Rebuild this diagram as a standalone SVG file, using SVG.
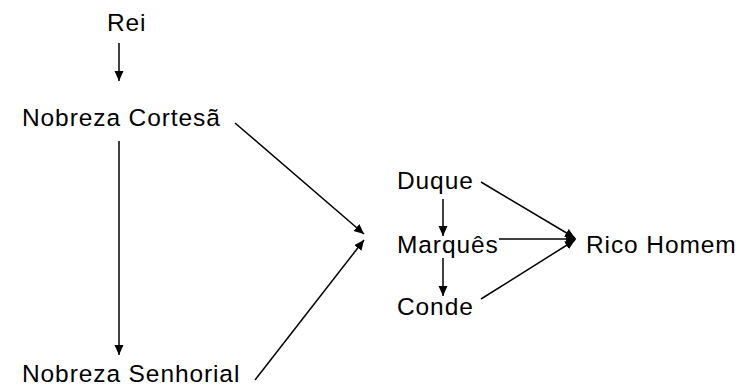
<svg xmlns="http://www.w3.org/2000/svg" width="756" height="392" viewBox="0 0 756 392">
<style>
text{font-family:"Liberation Sans",Arial,sans-serif;font-size:24.5px;letter-spacing:0.9px;fill:#000}
.c line{stroke:#000;stroke-width:1.5;fill:none;marker-end:url(#ah)}
</style>
<defs>
<marker id="ah" markerUnits="userSpaceOnUse" markerWidth="11" markerHeight="10" refX="10" refY="4.5" orient="auto">
<path d="M0,0 L10,4.5 L0,9 Z" fill="#000"/>
</marker>
</defs>
<rect width="756" height="392" fill="#fff"/>
<g id="rei"><text x="107" y="31">Rei</text></g>
<g id="nobreza-cortesa"><text x="22" y="126">Nobreza Cortesã</text></g>
<g id="nobreza-senhorial"><text x="22" y="382">Nobreza Senhorial</text></g>
<g id="duque"><text x="397" y="189">Duque</text></g>
<g id="marques"><text x="397" y="253">Marquês</text></g>
<g id="conde"><text x="397" y="315">Conde</text></g>
<g id="rico-homem"><text x="586" y="253">Rico Homem</text></g>
<g class="c" id="connectors">
<line x1="119" y1="43" x2="119" y2="81"/>
<line x1="119" y1="141" x2="119" y2="355"/>
<line x1="235" y1="123" x2="364" y2="234"/>
<line x1="255" y1="380" x2="364" y2="240"/>
<line x1="443" y1="199" x2="443" y2="236"/>
<line x1="443" y1="258" x2="443" y2="296"/>
<line x1="481" y1="182" x2="575" y2="238"/>
<line x1="499" y1="239" x2="576" y2="239"/>
<line x1="481" y1="299" x2="575" y2="240"/>
</g>
</svg>
